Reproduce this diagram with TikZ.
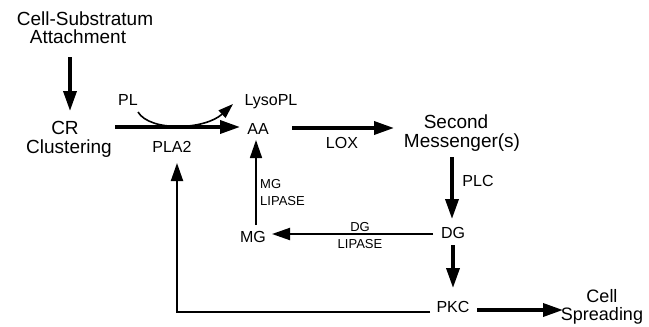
\documentclass[tikz,border=0pt]{standalone}
\usepackage{fontspec}
\setmainfont{Liberation Sans}
\usetikzlibrary{arrows.meta}
\tikzset{
  bigtxt/.style={font=\fontsize{19}{19}\selectfont, inner sep=0pt, anchor=base},
  captxt/.style={font=\fontsize{16}{16}\selectfont, inner sep=0pt, anchor=base},
  smalltxt/.style={font=\fontsize{13}{13}\selectfont, inner sep=0pt, anchor=base},
  thickarrow/.style={line width=3.5pt, -{Triangle[length=20pt,width=13pt]}},
  thinarrow/.style={line width=1.8pt, -{Triangle[length=18pt,width=12pt]}},
  curvearrow/.style={line width=1.6pt, -{Triangle[length=15pt,width=10pt]}}
}
\begin{document}
\begin{tikzpicture}[x=1pt,y=-1pt]
\useasboundingbox (0,0) rectangle (649,327);
% texts
\node[bigtxt] (cs1) at (85,25) {Cell-Substratum};
\node[bigtxt] (cs2) at (78,43) {Attachment};
\node[bigtxt] (cr1) at (65,134) {CR};
\node[bigtxt] (cr2) at (69,153) {Clustering};
\node[captxt] (pl) at (128,105) {PL};
\node[captxt] (pla) at (172,152) {PLA2};
\node[captxt] (lyso) at (271,105) {LysoPL};
\node[captxt] (aa) at (258,134) {AA};
\node[captxt] (lox) at (342,148) {LOX};
\node[bigtxt] (sm1) at (456,128) {Second};
\node[bigtxt] (sm2) at (462,147) {Messenger(s)};
\node[captxt] (plc) at (478,186) {PLC};
\node[captxt] (dg) at (453,238) {DG};
\node[captxt] (mg) at (253,242) {MG};
\node[captxt] (pkc) at (453,312) {PKC};
\node[font=\fontsize{18}{18}\selectfont, inner sep=0pt, align=center, anchor=center] (cell) at (602,307) {Cell\\Spreading};
\node[smalltxt, anchor=base west] (mgl1) at (260,188) {MG};
\node[smalltxt, anchor=base west] (mgl2) at (260,205) {LIPASE};
\node[smalltxt] (dgl1) at (360,231) {DG};
\node[smalltxt] (dgl2) at (360,248) {LIPASE};
% connector end points
\coordinate (a1s) at (70,57);   \coordinate (a1e) at (70,111);
\coordinate (a2s) at (115,127); \coordinate (a2e) at (240,127);
\coordinate (cvs) at (138,112); \coordinate (cve) at (233,104);
\coordinate (a3s) at (292,128); \coordinate (a3e) at (394,128);
\coordinate (a4s) at (452,157); \coordinate (a4e) at (452,219);
\coordinate (a5s) at (433,234); \coordinate (a5e) at (272,234);
\coordinate (a6s) at (256,225); \coordinate (a6e) at (256,140);
\coordinate (a7s) at (453,245); \coordinate (a7e) at (453,288);
\coordinate (a8s) at (430,312); \coordinate (a8c) at (177,312); \coordinate (a8e) at (177,163);
\coordinate (a9s) at (477,310); \coordinate (a9e) at (563,310);
% connectors
\draw[thickarrow] (a1s) -- (a1e);
\draw[thickarrow] (a2s) -- (a2e);
\draw[curvearrow] (cvs) .. controls (150,132) and (205,130) .. (cve);
\draw[thickarrow] (a3s) -- (a3e);
\draw[thickarrow] (a4s) -- (a4e);
\draw[thinarrow, line width=2pt] (a5s) -- (a5e);
\draw[thinarrow, line width=1.6pt] (a6s) -- (a6e);
\draw[thickarrow] (a7s) -- (a7e);
\draw[thinarrow, line width=2pt] (a8s) -- (a8c) -- (a8e);
\draw[thickarrow] (a9s) -- (a9e);
\end{tikzpicture}
\end{document}
